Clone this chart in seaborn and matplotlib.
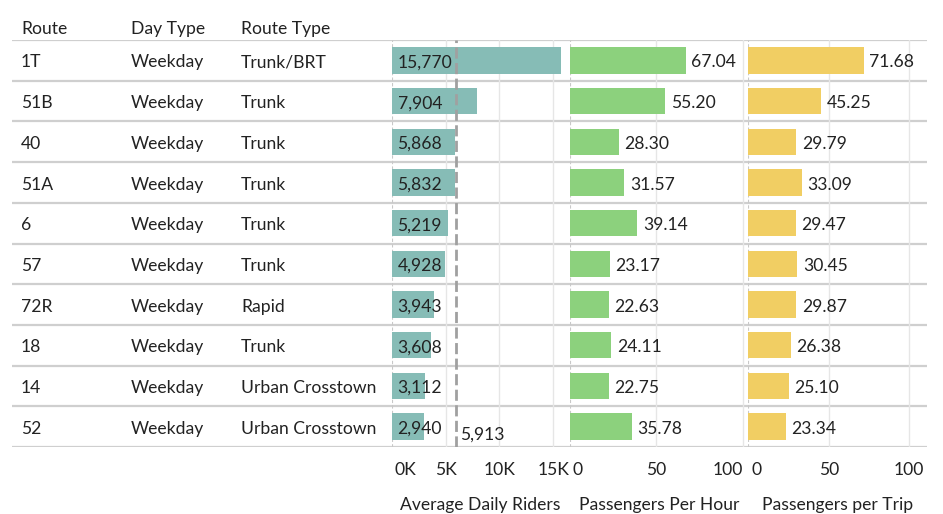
import numpy as np
import pandas as pd
import matplotlib
matplotlib.use("Agg")
import matplotlib.pyplot as plt
import matplotlib.transforms as mtransforms
import seaborn as sns

# Table data
routes = ["1T", "51B", "40", "51A", "6", "57", "72R", "18", "14", "52"]
day_types = ["Weekday"] * 10
route_types = ["Trunk/BRT", "Trunk", "Trunk", "Trunk", "Trunk", "Trunk",
               "Rapid", "Trunk", "Urban Crosstown", "Urban Crosstown"]
riders = [15770, 7904, 5868, 5832, 5219, 4928, 3943, 3608, 3112, 2940]
per_hour = [67.04, 55.20, 28.30, 31.57, 39.14, 23.17, 22.63, 24.11, 22.75, 35.78]
per_trip = [71.68, 45.25, 29.79, 33.09, 29.47, 30.45, 29.87, 26.38, 25.10, 23.34]
riders_avg = 5913

headers = ["Route", "Day Type", "Route Type"]
riders_ticks = [0, 5000, 10000, 15000]
riders_ticklabels = ["0K", "5K", "10K", "15K"]
pct_ticks = [0, 50, 100]

data = pd.DataFrame({"Route": routes, "Riders": riders,
                     "PerHour": per_hour, "PerTrip": per_trip})

sns.set_theme(style="white")
plt.rcParams["font.family"] = ["Lato", "DejaVu Sans"]
FS = 12.6
TXT = "#222222"
GRID = "#e6e6e6"
ROWLINE = "#cfcfcf"

W, H = 943, 514
fig = plt.figure(figsize=(W / 100, H / 100), dpi=100)

def fx(px):
    return px / W

y_top, y_bot = 40, 447
ax_b = 1 - y_bot / H
ax_h = (y_bot - y_top) / H

# Background table axes (row lines and text columns)
tab = fig.add_axes([fx(12), ax_b, fx(927 - 12), ax_h], zorder=0)
tab.set_xlim(0, 1)
tab.set_ylim(len(routes) - 0.5, -0.5)
tab.axis("off")
for b in np.arange(-0.5, len(routes), 1):
    tab.axhline(b, color=ROWLINE, lw=1.6, zorder=0)

trans = mtransforms.blended_transform_factory(fig.transFigure, tab.transData)
col_x = [21, 131, 241]
for i in range(len(routes)):
    for cx, val in zip(col_x, [routes[i], day_types[i], route_types[i]]):
        tab.annotate(val, (fx(cx), i), xycoords=trans, xytext=(0, -1.5),
                     textcoords="offset points", ha="left", va="center",
                     fontsize=FS, color=TXT)
for cx, h in zip(col_x, headers):
    fig.text(fx(cx), 1 - 29 / H, h, ha="left", va="center", fontsize=FS, color=TXT)

# Bar panels
panels = [
    dict(col="Riders", left=392, right=569, xmax=16480, color="#86BCB6",
         ticks=riders_ticks, labels=riders_ticklabels, title="Average Daily Riders"),
    dict(col="PerHour", left=569.5, right=748, xmax=103, color="#8CD17D",
         ticks=pct_ticks, labels=[str(t) for t in pct_ticks], title="Passengers Per Hour"),
    dict(col="PerTrip", left=748.3, right=926.7, xmax=110.8, color="#F1CE63",
         ticks=pct_ticks, labels=[str(t) for t in pct_ticks], title="Passengers per Trip"),
]

axes = []
for k, p in enumerate(panels):
    ax = fig.add_axes([fx(p["left"]), ax_b, fx(p["right"] - p["left"]), ax_h], zorder=1)
    ax.patch.set_alpha(0)
    sns.barplot(data=data, x=p["col"], y="Route", orient="h", color=p["color"],
                saturation=1, width=0.65, linewidth=0, ax=ax, zorder=3)
    ax.set_xlim(0, p["xmax"])
    ax.set_ylim(len(routes) - 0.5, -0.5)
    for sp in ax.spines.values():
        sp.set_visible(False)
    ax.set_yticks([])
    ax.set_ylabel("")
    for t in p["ticks"][1:]:
        ax.axvline(t, color=GRID, lw=1, zorder=1)
    ax.axvline(0, color="#c8c8c8", lw=0.8, ls=(0, (3, 2)), zorder=1)
    ax.set_xticks(p["ticks"])
    ax.set_xticklabels(p["labels"], fontsize=FS, color=TXT)
    ax.tick_params(axis="x", length=0, pad=10.5)
    ax.set_xlabel(p["title"], fontsize=FS, color=TXT, labelpad=14)
    axes.append(ax)

# Align edge tick labels like the reference
shift = mtransforms.ScaledTranslation(2 / 72, 0, fig.dpi_scale_trans)
for k, ax in enumerate(axes):
    lbls = ax.get_xticklabels()
    lbls[0].set_ha("left")
    lbls[0].set_transform(lbls[0].get_transform() + shift)
    if k == 1:
        lbls[-1].set_ha("right")

# Riders labels sit at the start of each bar
ax1 = axes[0]
for i, v in enumerate(riders):
    ax1.annotate(f"{v:,}", (0, i), xytext=(4, -1.5), textcoords="offset points",
                 ha="left", va="center", fontsize=FS, color=TXT, zorder=5)
ax1.axvline(riders_avg, color="#a0a0a0", lw=2, ls=(0, (4, 1.6)), zorder=4)
ax1.annotate(f"{riders_avg:,}", (riders_avg, len(routes) - 1), xytext=(3, -6),
             textcoords="offset points", ha="left", va="center",
             fontsize=FS, color=TXT, zorder=5)

# Hour / trip labels after bar end
for ax in axes[1:]:
    for rect, v in zip(ax.patches, ax.containers[0].datavalues):
        ax.annotate(f"{v:.2f}", (rect.get_width(), rect.get_y() + rect.get_height() / 2),
                    xytext=(4, -1.5), textcoords="offset points", ha="left",
                    va="center", fontsize=FS, color=TXT, zorder=5)

fig.savefig("out.png", dpi=100)
